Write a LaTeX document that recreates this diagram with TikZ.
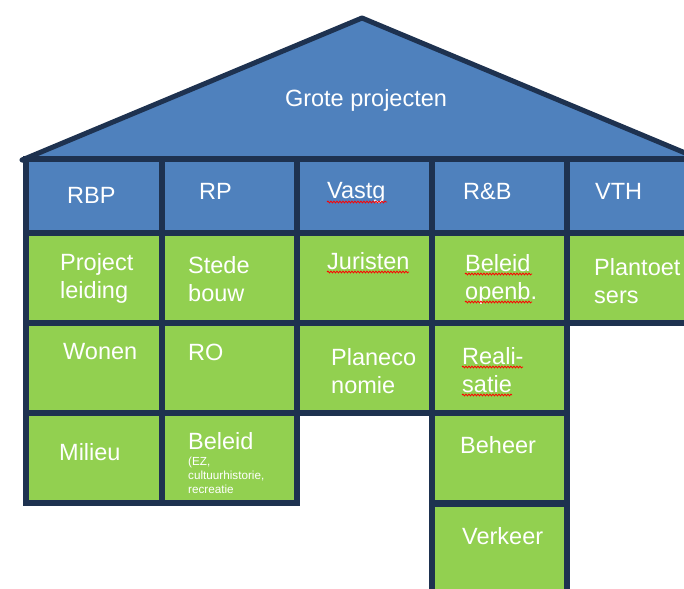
\documentclass[tikz,border=0pt]{standalone}
\usepackage{fontspec}
\setmainfont{Liberation Sans}
\usetikzlibrary{decorations.pathmorphing}
\definecolor{dakblauw}{HTML}{4F81BD}
\definecolor{vakgroen}{HTML}{92D050}
\definecolor{rand}{HTML}{1E3250}

\begin{document}
\begin{tikzpicture}
[x=1pt, y=-1pt,
dak/.style={fill=dakblauw, draw=rand, line width=5pt, line join=round},
kop/.style={rectangle, draw=rand, line width=6pt, fill=dakblauw, minimum width=135.5pt, minimum height=74pt},
vak/.style={rectangle, draw=rand, line width=6pt, fill=vakgroen, minimum width=135.5pt, minimum height=90pt},
tekst/.style={text=white, font=\fontsize{23.5}{28}\selectfont, align=left, anchor=north west, inner sep=0pt},
klein/.style={text=white, font=\fontsize{11.7}{13.7}\selectfont, align=left, anchor=north west, inner sep=0pt},
spelling/.style={draw=red, line width=0.8pt, decorate, decoration={snake, amplitude=0.9pt, segment length=3pt}}]
\clip (0,0) rectangle (684,588);

% dak
\draw[dak] (22,160) -- (362,18) -- (702,160) -- cycle;
\node[tekst, anchor=base] (titel) at (366,107) {Grote projecten};

% vakken
\node[vak] (projectleiding) at (93.75,278) {};
\node[vak] (stedebouw) at (229.25,278) {};
\node[vak] (juristen) at (364.5,278) {};
\node[vak] (beleidopenb) at (499.5,278) {};
\node[vak] (plantoetsers) at (635,278) {};
\node[vak] (wonen) at (93.75,368) {};
\node[vak] (ro) at (229.25,368) {};
\node[vak] (planeconomie) at (364.5,368) {};
\node[vak] (realisatie) at (499.5,368) {};
\node[vak] (milieu) at (93.75,458) {};
\node[vak] (beleid) at (229.25,458) {};
\node[vak] (beheer) at (499.5,458) {};
\node[vak] (verkeer) at (499.5,549) {};

% kolomkoppen
\node[kop] (rbp) at (93.75,196) {};
\node[kop] (rp) at (229.25,196) {};
\node[kop] (vastg) at (364.5,196) {};
\node[kop] (rb) at (499.5,196) {};
\node[kop] (vth) at (635,196) {};

% teksten
\node[tekst] (t-rbp) at (67,187) {RBP};
\node[tekst] (t-rp) at (199,183) {RP};
\node[tekst] (t-vastg) at (327,182) {Vastg};
\node[tekst] (t-rb) at (463,183) {R\&B};
\node[tekst] (t-vth) at (595,183) {VTH};
\node[tekst] (t-proj) at (60,253) {Project\\leiding};
\node[tekst] (t-stede) at (188,256) {Stede\\bouw};
\node[tekst] (t-jur) at (327,252) {Juristen};
\node[tekst] (t-beleidopenb) at (465,254) {Beleid\\openb.};
\node[tekst] (t-plant) at (594,258) {Plantoet\\sers};
\node[tekst] (t-wonen) at (63,343) {Wonen};
\node[tekst] (t-ro) at (188,344) {RO};
\node[tekst] (t-planec) at (331,348) {Planeco\\nomie};
\node[tekst] (t-real) at (462,347) {Reali-\\satie};
\node[tekst] (t-milieu) at (59,443) {Milieu};
\node[tekst] (t-beleid) at (188,432) {Beleid};
\node[klein] (t-beleidx) at (188,457) {(EZ,\\cultuurhistorie,\\recreatie};
\node[tekst] (t-beheer) at (460,436) {Beheer};
\node[tekst] (t-verkeer) at (462,527) {Verkeer};

% spellingskronkels
\draw[spelling] (327,202) -- (387,202);
\draw[spelling] (327,272) -- (409,272);
\draw[spelling] (465,274) -- (532,274);
\draw[spelling] (465,302) -- (532,302);
\draw[spelling] (462,367) -- (523,367);
\draw[spelling] (462,395) -- (512,395);
\end{tikzpicture}
\end{document}
